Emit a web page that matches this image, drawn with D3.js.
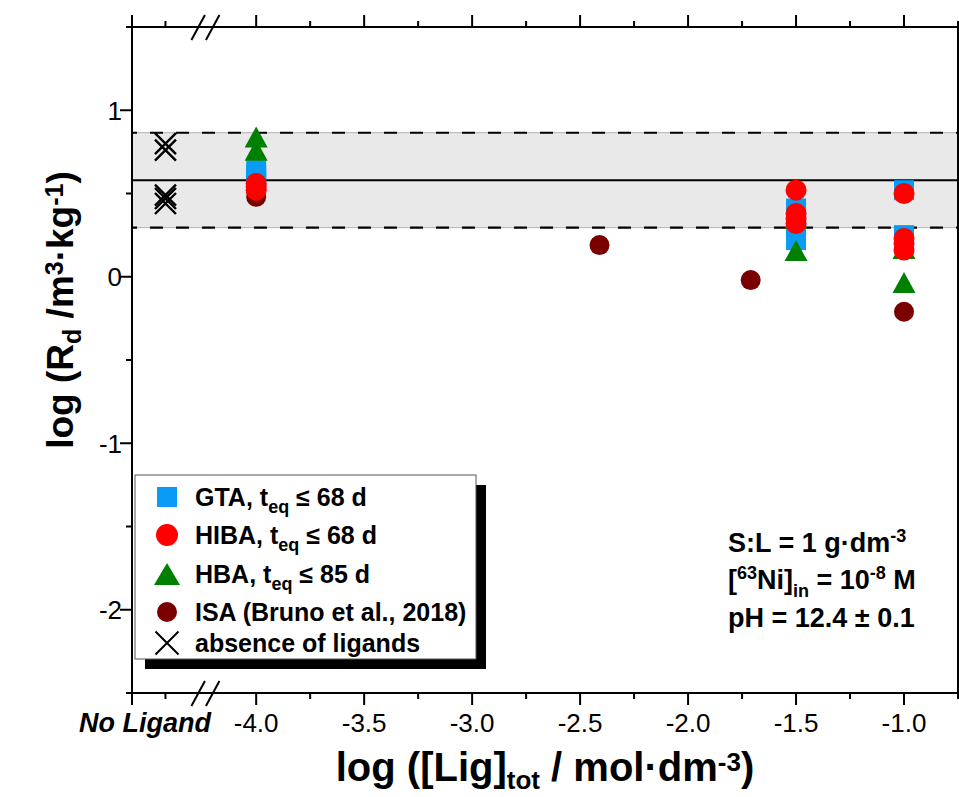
<!DOCTYPE html>
<html><head><meta charset="utf-8">
<script src="https://cdn.jsdelivr.net/npm/d3@7"></script>
<style>
body{margin:0;background:#fff;}
text{font-family:"Liberation Sans",Arial,Helvetica,sans-serif;fill:#000;}
</style></head><body>
<svg id="chart" width="959" height="797"></svg>
<script>
// ---- axis ticks ----
const xTicksMajor = [-4.0, -3.5, -3.0, -2.5, -2.0, -1.5, -1.0];
const xTicksMinor = [-3.75, -3.25, -2.75, -2.25, -1.75, -1.25, -0.75];
const yTicksMajor = [-2, -1, 0, 1];
const yTicksMinor = [-1.5, -0.5, 0.5];
const noLigandPos = -4.42;   // where the ligand-free samples sit on the x axis
const breakPos = -4.235;     // axis break between "No Ligand" and the log scale

// ---- GTA, t_eq <= 68 d ----
const gtaLig = [-4.0, -4.0, -4.0, -1.5, -1.5, -1.5, -1.5, -1.0, -1.0, -1.0];
const gtaLogRd = [0.64, 0.61, 0.58, 0.41, 0.35, 0.29, 0.22, 0.52, 0.25, 0.20];
// ---- HIBA, t_eq <= 68 d ----
const hibaLig = [-4.0, -4.0, -4.0, -1.5, -1.5, -1.5, -1.5, -1.0, -1.0, -1.0, -1.0];
const hibaLogRd = [0.56, 0.54, 0.52, 0.52, 0.38, 0.35, 0.32, 0.50, 0.23, 0.20, 0.16];
// ---- HBA, t_eq <= 85 d ----
const hbaLig = [-4.0, -4.0, -1.5, -1.5, -1.0, -1.0];
const hbaLogRd = [0.84, 0.76, 0.35, 0.157, 0.17, -0.035];
// ---- ISA (Bruno et al., 2018) ----
const isaLig = [-4.0, -2.41, -1.71, -1.0];
const isaLogRd = [0.48, 0.19, -0.02, -0.21];
// ---- absence of ligands ----
const blankLogRd = [0.80, 0.76, 0.49, 0.47, 0.44];
// ---- mean +/- band of the ligand-free reference ----
const bandMean = 0.58, bandLow = 0.295, bandHigh = 0.865;

const svg = d3.select("#chart");
const pL = 132, pR = 958, pT = 27, pB = 693;
const x = d3.scaleLinear().domain([-4.575, -0.75]).range([pL, pR]);
const y = d3.scaleLinear().domain([-2.5, 1.5]).range([pB, pT]);

// ---- reference band ----
svg.append("rect")
  .attr("x", pL).attr("y", y(bandHigh))
  .attr("width", pR - pL).attr("height", y(bandLow) - y(bandHigh))
  .attr("fill", "#e9e9e9");
[bandHigh, bandLow].forEach(v => {
  svg.append("line").attr("x1", pL).attr("x2", pR).attr("y1", y(v)).attr("y2", y(v))
    .attr("stroke", "#b0b0b0").attr("stroke-width", 1);
  svg.append("line").attr("x1", pL).attr("x2", pR).attr("y1", y(v)).attr("y2", y(v))
    .attr("stroke", "#000").attr("stroke-width", 2.2).attr("stroke-dasharray", "13,13")
    .attr("stroke-dashoffset", 8);
});
svg.append("line").attr("x1", pL).attr("x2", pR)
  .attr("y1", y(bandMean)).attr("y2", y(bandMean))
  .attr("stroke", "#000").attr("stroke-width", 2);

// ---- marker shapes ----
const square = s => `M${-s/2},${-s/2}H${s/2}V${s/2}H${-s/2}Z`;
const circle = r => `M${-r},0A${r},${r} 0 1,0 ${r},0A${r},${r} 0 1,0 ${-r},0Z`;
const triangle = (w, h) => `M0,${-h/2}L${w/2},${h/2}L${-w/2},${h/2}Z`;
const cross = s => `M${-s/2},${-s/2}L${s/2},${s/2}M${s/2},${-s/2}L${-s/2},${s/2}`;

function plotSeries(xs, ys, path, fill, stroke, sw) {
  svg.append("g").selectAll("path").data(d3.zip(xs, ys)).join("path")
    .attr("d", path)
    .attr("transform", d => `translate(${x(d[0])},${y(d[1])})`)
    .attr("fill", fill).attr("stroke", stroke || "none").attr("stroke-width", sw || 0);
}
const cGTA = "#0a9bf5", cHIBA = "#ff0000", cHBA = "#008000", cISA = "#7a0000";
plotSeries(gtaLig, gtaLogRd, square(20), cGTA);
plotSeries(isaLig, isaLogRd, circle(10), cISA);
plotSeries(hbaLig, hbaLogRd, triangle(23, 21), cHBA);
plotSeries(hibaLig, hibaLogRd, circle(10.5), cHIBA);
plotSeries(blankLogRd.map(() => noLigandPos), blankLogRd, cross(21), "none", "#000", 2.4);

// ---- frame and ticks ----
const ax = svg.append("g").attr("stroke", "#000").attr("stroke-width", 2).attr("fill", "none");
ax.append("line").attr("x1", pL - 6).attr("x2", pR).attr("y1", pT).attr("y2", pT);
ax.append("line").attr("x1", pL - 6).attr("x2", pR).attr("y1", pB).attr("y2", pB);
ax.append("line").attr("x1", pL).attr("x2", pL).attr("y1", pT - 12).attr("y2", pB + 12);
ax.append("line").attr("x1", pR).attr("x2", pR).attr("y1", pT - 6).attr("y2", pB);

const xMinor = xTicksMinor.concat([noLigandPos]);
xTicksMajor.forEach(v => {
  ax.append("line").attr("x1", x(v)).attr("x2", x(v)).attr("y1", pB).attr("y2", pB + 12);
  ax.append("line").attr("x1", x(v)).attr("x2", x(v)).attr("y1", pT).attr("y2", pT - 12);
});
xMinor.forEach(v => {
  ax.append("line").attr("x1", x(v)).attr("x2", x(v)).attr("y1", pB).attr("y2", pB + 6);
  ax.append("line").attr("x1", x(v)).attr("x2", x(v)).attr("y1", pT).attr("y2", pT - 6);
});
yTicksMajor.forEach(v => ax.append("line").attr("x1", pL - 12).attr("x2", pL).attr("y1", y(v)).attr("y2", y(v)));
yTicksMinor.forEach(v => ax.append("line").attr("x1", pL - 6).attr("x2", pL).attr("y1", y(v)).attr("y2", y(v)));

// axis break marks
const bx = x(breakPos);
[pT, pB].forEach(ay => {
  ax.append("line").attr("x1", bx - 14).attr("y1", ay + 13).attr("x2", bx - 0.5).attr("y2", ay - 12);
  ax.append("line").attr("x1", bx + 0.5).attr("y1", ay + 13).attr("x2", bx + 14).attr("y2", ay - 12);
});

// tick labels
svg.append("g").selectAll("text").data(xTicksMajor).join("text")
  .attr("x", d => x(d)).attr("y", 732).attr("text-anchor", "middle")
  .attr("font-size", 26).text(d => d.toFixed(1));
svg.append("text").attr("x", 211).attr("y", 732).attr("text-anchor", "end")
  .attr("font-size", 27).attr("font-weight", "bold").attr("font-style", "italic")
  .text("No Ligand");
svg.append("g").selectAll("text").data(yTicksMajor).join("text")
  .attr("x", 122).attr("y", d => y(d) + 9.5).attr("text-anchor", "end")
  .attr("font-size", 26).text(d => String(d));

// rich text helper: parts are [text, "sub"|"sup"|undefined]
function rich(t, parts, size, small, shift) {
  let prev = 0;
  parts.forEach(([s, kind]) => {
    const off = kind === "sub" ? shift : kind === "sup" ? -shift * 1.2 : 0;
    t.append("tspan").attr("dy", off - prev)
      .attr("font-size", kind ? small : size).text(s);
    prev = off;
  });
}

// axis titles
const yl = svg.append("text").attr("transform", "translate(73,310) rotate(-90)")
  .attr("text-anchor", "middle").attr("font-weight", "bold").attr("font-size", 37);
rich(yl, [["log (R"], ["d", "sub"], [" /m"], ["3", "sup"], ["\u00b7kg"], ["-1", "sup"], [")"]], 37, 25, 8);
const xl = svg.append("text").attr("x", 545).attr("y", 781)
  .attr("text-anchor", "middle").attr("font-weight", "bold").attr("font-size", 40);
rich(xl, [["log ([Lig]"], ["tot", "sub"], [" / mol\u00b7dm"], ["-3", "sup"], [")"]], 40, 26, 8);

// ---- legend ----
const lg = svg.append("g");
lg.append("rect").attr("x", 145).attr("y", 485).attr("width", 341).attr("height", 184).attr("fill", "#000");
lg.append("rect").attr("x", 135).attr("y", 475).attr("width", 341).attr("height", 184)
  .attr("fill", "#fff").attr("stroke", "#555").attr("stroke-width", 1);
const legendRows = [
  { path: square(20), fill: cGTA, cy: 497, parts: [["GTA, t"], ["eq", "sub"], [" \u2264 68 d"]] },
  { path: circle(11), fill: cHIBA, cy: 535, parts: [["HIBA, t"], ["eq", "sub"], [" \u2264 68 d"]] },
  { path: triangle(26, 22), fill: cHBA, cy: 574, parts: [["HBA, t"], ["eq", "sub"], [" \u2264 85 d"]] },
  { path: circle(10), fill: cISA, cy: 612, parts: [["ISA (Bruno et al., 2018)"]] },
  { path: cross(23), fill: "none", stroke: "#000", cy: 643, parts: [["absence of ligands"]] }
];
legendRows.forEach(r => {
  lg.append("path").attr("d", r.path).attr("transform", `translate(167,${r.cy})`)
    .attr("fill", r.fill).attr("stroke", r.stroke || "none").attr("stroke-width", 2);
  const t = lg.append("text").attr("x", 195).attr("y", r.cy + 8.5)
    .attr("font-weight", "bold").attr("font-size", 25);
  rich(t, r.parts, 25, 18, 7);
});

// ---- experimental conditions ----
const notes = [
  { y: 552, parts: [["S:L = 1 g\u00b7dm"], ["-3", "sup"]] },
  { y: 589, parts: [["["], ["63", "sup"], ["Ni]"], ["in", "sub"], [" = 10"], ["-8", "sup"], [" M"]] },
  { y: 627, parts: [["pH = 12.4 \u00b1 0.1"]] }
];
notes.forEach(n => {
  const t = svg.append("text").attr("x", 728).attr("y", n.y)
    .attr("font-weight", "bold").attr("font-size", 27);
  rich(t, n.parts, 27, 18, 8);
});
</script>
</body></html>
